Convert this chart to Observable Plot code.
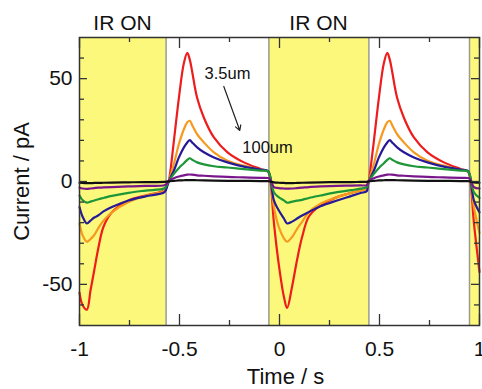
<!DOCTYPE html>
<html><head><meta charset="utf-8">
<script src="https://cdn.jsdelivr.net/npm/d3@7"></script>
<script src="https://cdn.jsdelivr.net/npm/@observablehq/plot@0.6"></script>
<style>body{margin:0;background:#fff;} svg{display:block;}</style>
</head><body><div id="chart"></div>
<script>
// shared sample times (s)
const times = [
  -1.0, -0.985, -0.963, -0.945, -0.926, -0.905, -0.88, -0.838, -0.755, -0.67, -0.575,
  -0.562, -0.553, -0.528, -0.503, -0.478, -0.461, -0.448, -0.437, -0.412, -0.378, -0.328, -0.26, -0.178, -0.095, -0.058,
  -0.048, -0.028, -0.004, 0.022, 0.038, 0.063, 0.088, 0.113, 0.147, 0.205, 0.288, 0.36, 0.405, 0.436,
  0.441, 0.447, 0.472, 0.497, 0.522, 0.539, 0.552, 0.563, 0.588, 0.622, 0.672, 0.74, 0.822, 0.905, 0.942,
  0.952, 0.972, 1.0
];
// currents (pA), one array per trace
const redCurrent = [
  -54, -60, -62.3, -53, -43, -32, -22, -15, -9.2, -6.8, -4.3,
  -2, 0.5, 19.8, 40.7, 57.6, 62.5, 59, 53.6, 40.7, 31, 21.4, 14.2, 9.3, 6.1, 4.8,
  2, -20, -40, -56, -61.5, -51, -38, -27, -17, -11.6, -7.6, -5.5, -4.3, -3.5,
  -2, 0.5, 19.8, 40.7, 57.6, 62.5, 59, 53.6, 40.7, 31, 21.4, 14.2, 9.3, 6.1, 4.8,
  2, -20, -44
];
const orangeCurrent = [
  -20.4, -26, -29.3, -28, -26, -22.5, -19, -15, -10, -7, -4.5,
  -2, 0.5, 8.5, 18.2, 25.4, 28.8, 29.5, 27.5, 23, 19, 14.2, 10.1, 7.7, 5.6, 5,
  2.5, -12.4, -22, -27.6, -29.3, -27, -23, -19.6, -14.8, -10.8, -7.6, -5.5, -4.3, -3.5,
  -2, 0.5, 8.5, 18.2, 25.4, 28.8, 29.5, 27.5, 23, 19, 14.2, 10.1, 7.7, 5.6, 5,
  2.5, -12.4, -25
];
const navyCurrent = [
  -12.4, -17, -20.4, -19, -17.5, -16.4, -14.5, -12.4, -9.2, -7.2, -5.2,
  -2.5, 0.3, 5.3, 11.7, 16.6, 19, 20.1, 19, 16.6, 14.2, 11.7, 9.3, 7.2, 5.8, 5.2,
  3, -9.2, -14, -18, -20.4, -19.5, -18, -16.5, -14.8, -12, -9.2, -7, -5.6, -4.7,
  -2.5, 0.3, 5.3, 11.7, 16.6, 19, 20.1, 19, 16.6, 14.2, 11.7, 9.3, 7.2, 5.8, 5.2,
  3, -9.2, -15
];
const greenCurrent = [
  -6.8, -9, -10.3, -9.8, -9.2, -8.6, -8, -7, -5.5, -4.4, -3.3,
  -1.5, 0.3, 3.7, 6.6, 8.9, 10.5, 11.3, 10.6, 9.3, 8.3, 7.4, 6.8, 6, 5.3, 5,
  3, -5.2, -7.6, -9.2, -10.3, -9.8, -9.3, -8.9, -8, -6.8, -5.2, -4.2, -3.5, -2.7,
  -1.5, 0.3, 3.7, 6.6, 8.9, 10.5, 11.3, 10.6, 9.3, 8.3, 7.4, 6.8, 6, 5.3, 5,
  3, -5.2, -8
];
const purpleCurrent = [
  -3, -3.4, -3.6, -3.4, -3.2, -3, -2.9, -2.7, -2.4, -2.1, -1.8,
  -1, 0.5, 1.6, 2.4, 3, 3.3, 3.4, 3.3, 3, 2.8, 2.5, 2.2, 2, 1.8, 1.7,
  1.2, -2.7, -3.2, -3.4, -3.5, -3.4, -3.2, -3, -2.7, -2.4, -2.1, -2, -1.9, -1.8,
  -1, 0.5, 1.6, 2.4, 3, 3.3, 3.4, 3.3, 3, 2.8, 2.5, 2.2, 2, 1.8, 1.7,
  1.2, -2.7, -3.4
];
const blackCurrent = [
  -0.6, -0.7, -0.8, -0.8, -0.7, -0.7, -0.6, -0.5, -0.4, -0.3, -0.2,
  -0.1, 0.1, 0.3, 0.5, 0.6, 0.7, 0.7, 0.7, 0.6, 0.5, 0.4, 0.3, 0.3, 0.2, 0.2,
  0.1, -0.4, -0.6, -0.7, -0.8, -0.8, -0.7, -0.6, -0.5, -0.4, -0.3, -0.3, -0.2, -0.2,
  -0.1, 0.1, 0.3, 0.5, 0.6, 0.7, 0.7, 0.7, 0.6, 0.5, 0.4, 0.3, 0.3, 0.2, 0.2,
  0.1, -0.4, -0.6
];

// IR-on periods
const irStart = [-1.0, -0.053, 0.95];
const irEnd = [-0.567, 0.447, 1.0];
const irEdges = [-0.567, -0.053, 0.447, 0.95];
const irLabelX = [-0.785, 0.195];
const irLabelText = ["IR ON", "IR ON"];

// annotation
const annotText = ["3.5um", "100um"];
const annotX = [-0.26, -0.06];
const annotY = [52.6, 16.4];
const arrowFrom = [-0.2785, 46.2];
const arrowTo = [-0.1985, 24.8];

// ticks
const xMajor = [-1, -0.5, 0, 0.5, 1];
const xMinor = [-0.75, -0.25, 0.25, 0.75];
const yMajor = [-50, 0, 50];
const yMinor = [-60, -40, -30, -20, -10, 10, 20, 30, 40, 60];

const traces = [
  {vals: redCurrent, color: "#ee1c1c"},
  {vals: orangeCurrent, color: "#f7981f"},
  {vals: navyCurrent, color: "#271a96"},
  {vals: greenCurrent, color: "#1c9637"},
  {vals: purpleCurrent, color: "#7a168c"},
  {vals: blackCurrent, color: "#111111"}
];

const bands = irStart.map((a, i) => ({a, b: irEnd[i]}));
const irLabels = irLabelX.map((x, i) => ({x, text: irLabelText[i]}));
const annots = annotX.map((x, i) => ({x, y: annotY[i], text: annotText[i]}));
const arrowData = [{x1: arrowFrom[0], y1: arrowFrom[1], x2: arrowTo[0], y2: arrowTo[1]}];

const W = 482, H = 389, mt = 37, mr = 3, mb = 64, ml = 79;
const fh = H - mt - mb, fw = W - ml - mr;
const tickColor = "#333";

const marks = [
  Plot.rect(bands, {x1: "a", x2: "b", fill: "#fbf87c"}),
  Plot.ruleX(irEdges, {stroke: "#9a9a8e", strokeWidth: 1.5}),
  ...traces.map(tr => Plot.line(times.map((t, i) => ({t, v: tr.vals[i]})), {
    x: "t", y: "v", stroke: tr.color, strokeWidth: 2.2, curve: "catmull-rom"
  })),
  // inward ticks
  Plot.tickX(xMajor, {x: d => d, insetTop: fh - 11, stroke: tickColor, strokeWidth: 1.3}),
  Plot.tickX(xMinor, {x: d => d, insetTop: fh - 5, stroke: tickColor, strokeWidth: 1.3}),
  Plot.tickX(xMajor, {x: d => d, insetBottom: fh - 11, stroke: tickColor, strokeWidth: 1.3}),
  Plot.tickX(xMinor, {x: d => d, insetBottom: fh - 5, stroke: tickColor, strokeWidth: 1.3}),
  Plot.tickY(yMajor, {y: d => d, insetRight: fw - 8, stroke: tickColor, strokeWidth: 1.3}),
  Plot.tickY(yMinor, {y: d => d, insetRight: fw - 5, stroke: tickColor, strokeWidth: 1.3}),
  Plot.tickY(yMajor, {y: d => d, insetLeft: fw - 8, stroke: tickColor, strokeWidth: 1.3}),
  Plot.tickY(yMinor, {y: d => d, insetLeft: fw - 5, stroke: tickColor, strokeWidth: 1.3}),
  Plot.frame({stroke: "#333", strokeWidth: 1.5}),
  Plot.axisX(xMajor, {tickSize: 0, tickPadding: 16, tickFormat: d => String(d), fontSize: 21, label: null, fill: "#111"}),
  Plot.axisY(yMajor, {tickSize: 0, tickPadding: 7, tickFormat: d => String(d), fontSize: 21, label: null, fill: "#111"}),
  Plot.text(["Time / s"], {frameAnchor: "bottom", lineAnchor: "middle", textAnchor: "middle", dy: 51, dx: 6, text: d => d, fontSize: 22, fill: "#111"}),
  Plot.text(["Current / pA"], {frameAnchor: "left", lineAnchor: "middle", textAnchor: "middle", dx: -58, rotate: -90, text: d => d, fontSize: 22, fill: "#111"}),
  Plot.text(irLabels, {x: "x", frameAnchor: "top", lineAnchor: "middle", dy: -14.5, text: "text", fontSize: 21, fill: "#111"}),
  Plot.text(annots, {x: "x", y: "y", text: "text", fontSize: 16.5, fill: "#111"}),
  Plot.arrow(arrowData, {x1: "x1", y1: "y1", x2: "x2", y2: "y2", stroke: "#222", strokeWidth: 1.2, headLength: 7})
];

const chart = Plot.plot({
  width: W, height: H,
  marginTop: mt, marginRight: mr, marginBottom: mb, marginLeft: ml,
  x: {domain: [-1, 1]},
  y: {domain: [-70, 70]},
  style: {fontFamily: "'Liberation Sans', Arial, sans-serif", background: "white", color: "#111"},
  marks
});
document.getElementById("chart").appendChild(chart);
</script>
</body></html>
